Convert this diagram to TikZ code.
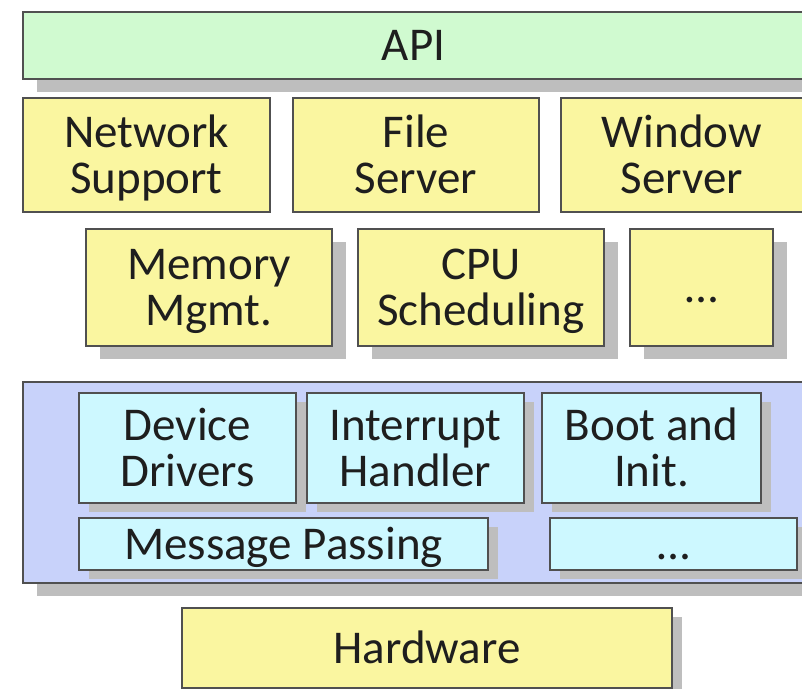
\documentclass[tikz,border=0pt]{standalone}
\usepackage{fontspec}
\setmainfont{Carlito}
\usepackage{tikz}
\usetikzlibrary{positioning,shadows}
\definecolor{apigreen}{RGB}{208,250,208}
\definecolor{svcyellow}{RGB}{250,246,160}
\definecolor{kernelblue}{RGB}{200,210,250}
\definecolor{drvcyan}{RGB}{205,248,255}
\definecolor{shadowgrey}{RGB}{190,190,190}
\definecolor{edgegrey}{RGB}{80,80,80}
\definecolor{textgrey}{RGB}{30,30,30}
\tikzset{
	layer/.style={draw=edgegrey, line width=1.6pt, inner sep=0pt, outer sep=0pt,
		align=center, text=textgrey, font=\fontsize{47}{46}\selectfont,
		text height=30pt, text depth=0pt},
	two lines/.style={text height=76pt, text depth=0pt},
	layer size/.style 2 args={minimum width=#1, minimum height=#2},
	big shadow/.style={drop shadow={shadow xshift=14pt, shadow yshift=-13pt,
		fill=shadowgrey, opacity=1}},
	small shadow/.style={drop shadow={shadow xshift=10pt, shadow yshift=-9pt,
		fill=shadowgrey, opacity=1}},
	api/.style={layer, fill=apigreen, big shadow},
	svc/.style={layer, fill=svcyellow},
	kernel/.style={layer, fill=kernelblue, big shadow},
	drv/.style={layer, fill=drvcyan, small shadow}
}
\begin{document}
\begin{tikzpicture}[x=1pt, y=-1pt]
   \useasboundingbox (0,0) rectangle (802,688);
   \clip (0,0) rectangle (802,688);
   % top: system call interface
   \node[api, layer size={781pt}{67pt}] (API) at (413.5,45.5) {API};
   % servers
   \node[svc, two lines, layer size={247pt}{114pt}] (NetSup) at (146.5,155) {Network\\Support};
   \node[svc, two lines, layer size={246pt}{114pt}, right=23pt of NetSup] (FileSrv) {File\\Server};
   \node[svc, two lines, layer size={242pt}{114pt}, right=22pt of FileSrv] (WinSrv) {Window\\Server};
   % managers
   \node[svc, big shadow, two lines, layer size={246pt}{117pt}] (MemMgmt) at (209,287.5) {Memory\\Mgmt.};
   \node[svc, big shadow, two lines, layer size={246pt}{117pt}, right=26pt of MemMgmt] (CPUSched) {CPU\\Scheduling};
   \node[svc, big shadow, layer size={143pt}{117pt}, right=26pt of CPUSched] (MgrMore) {\ldots};
   % micro kernel
   \node[kernel, layer size={781pt}{201pt}] (Kernel) at (413.5,482.5) {};
   \node[drv, two lines, layer size={217pt}{110pt}] (DevDrv) at (187.5,448) {Device\\Drivers};
   \node[drv, two lines, layer size={217pt}{110pt}, right=11pt of DevDrv] (IntHdl) {Interrupt\\Handler};
   \node[drv, two lines, layer size={219pt}{110pt}, right=18pt of IntHdl] (BootInit) {Boot and\\Init.};
   \node[drv, layer size={409pt}{52pt}] (MsgPass) at (283.5,544) {Message Passing};
   \node[drv, layer size={247pt}{52pt}] (KerMore) at (673.5,544) {\ldots};
   % bottom
   \node[svc, small shadow, layer size={490pt}{80pt}] (Hardware) at (427,648) {Hardware};
\end{tikzpicture}
\end{document}
